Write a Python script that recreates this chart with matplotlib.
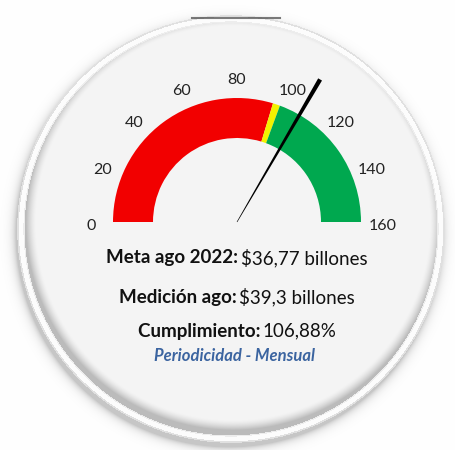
import numpy as np
import matplotlib
matplotlib.use("Agg")
import matplotlib.pyplot as plt
from matplotlib.patches import Wedge, Polygon

# gauge data
gauge_min = 0
gauge_max = 160
band_edges = [0, 95, 98, 160]
band_colors = ["#f20000", "#f2f200", "#00a84f"]
tick_values = [0, 20, 40, 60, 80, 100, 120, 140, 160]
needle_value = 106.88

# text lines: bold part, normal part
line_bold = ["Meta ago 2022:", "Medición ago:", "Cumplimiento:"]
line_normal = ["$36,77 billones", "$39,3 billones", "106,88%"]
footer = "Periodicidad - Mensual"

plt.rcParams['font.family'] = ['Lato', 'DejaVu Sans']

W, H = 456, 450
fig = plt.figure(figsize=(W / 100, H / 100), dpi=100)
ax = fig.add_axes([0, 0, 1, 1])
ax.set_xlim(0, W)
ax.set_ylim(0, H)
ax.set_aspect("equal")
ax.axis("off")

# background: button-like disc with soft shadows (image coords, y down)
cx, cy, R = 231, 229, 213
yy, xx = np.mgrid[0:H, 0:W] + 0.5
dist = np.hypot(xx - cx, yy - cy)
d_out = np.hypot(xx - cx + 2, yy - cy - 5)
d_in = np.hypot(xx - cx - 2, yy - cy + 6)
bg = np.ones((H, W))
out_shadow = 0.22 * np.exp(-np.clip(d_out - R, 0, None) / 4.0)
bg = np.where(dist > R, 1 - out_shadow, bg)
bg = np.where(dist <= R, 0.99, bg)
bg = np.where(np.abs(dist - R) < 0.8, 0.88, bg)
inner = 0.957 - 0.22 * np.clip((d_in - (R - 16)) / 10, 0, 1) ** 1.5
bg = np.where(dist < R - 6, inner, bg)
bg = np.where(np.abs(dist - (R - 6)) < 0.6, 0.93, bg)
ax.imshow(np.dstack([bg] * 3), extent=[0, W, 0, H], origin="upper", zorder=0)
ax.plot([192, 280], [H - 18, H - 18], color="#444444", lw=1.5, alpha=0.7)

# gauge
gx, gy = 237, H - 222
r_out, r_in = 124, 84


def to_angle(v):
    return 180 - (v - gauge_min) / (gauge_max - gauge_min) * 180


for lo, hi, c in zip(band_edges[:-1], band_edges[1:], band_colors):
    ax.add_patch(Wedge((gx, gy), r_out, to_angle(hi), to_angle(lo),
                       width=r_out - r_in, color=c, lw=0, zorder=2))

for v in tick_values:
    a = np.radians(to_angle(v))
    ax.text(gx + 146 * np.cos(a), gy + 146 * np.sin(a) - 4, str(v),
            ha="center", va="center", fontsize=11.5, color="#222222")

# needle
a = np.radians(to_angle(needle_value))
d = np.array([np.cos(a), np.sin(a)])
n = np.array([-d[1], d[0]])
L = 165
base = np.array([gx, gy])
tip = base + L * d
ax.add_patch(Polygon([base - 0.3 * n, base + 0.3 * n, tip + 2.2 * n, tip - 2.2 * n],
                     closed=True, color="#000000", lw=0, zorder=3))

# text block, each line centred as a whole
ys = [H - 258, H - 297, H - 331]
fig.canvas.draw()
renderer = fig.canvas.get_renderer()
for b, t, y in zip(line_bold, line_normal, ys):
    tb = ax.text(0, y, b + " ", ha="left", va="center", fontsize=13.5,
                 fontweight="bold", color="#111111")
    tn = ax.text(0, y, t, ha="left", va="center", fontsize=13.5, color="#111111")
    wb = tb.get_window_extent(renderer).width
    wn = tn.get_window_extent(renderer).width
    x0 = 238 - (wb + wn) / 2
    tb.set_x(x0)
    tn.set_x(x0 + wb - 2)
ax.text(235, H - 356, footer, ha="center", va="center", fontsize=12,
        fontweight="bold", style="italic", color="#3b64a0")

fig.savefig("out.png", dpi=100)
